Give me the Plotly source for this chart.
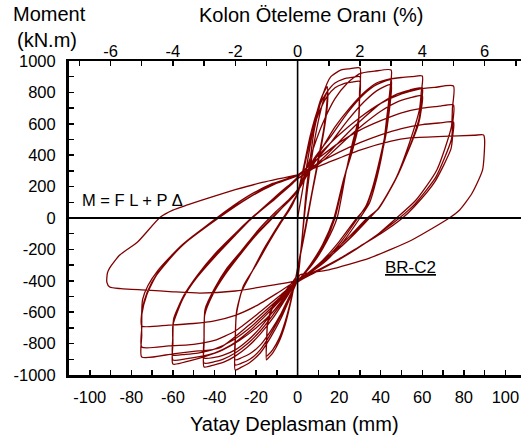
import plotly.graph_objects as go

# ---------------- data ----------------
# Level 1 % drift (≈15 mm), two cycles
d_1a = [0, 2, 5, 8, 11, 13, 14.3, 14, 12.5, 10, 7, 4, 1, 0, -3, -6, -9, -12, -14, -15, -14.8, -14.5, -12, -8, -5, -2, 0]
m_1a = [0, 150, 380, 600, 750, 810, 836, 720, 560, 380, 170, -40, -250, -320, -520, -680, -790, -860, -890, -904, -760, -682, -573, -520, -471, -420, -382]
d_1b = [2, 4, 7, 10, 12.5, 14.5, 14.2, 12.5, 10, 7, 4, 1, 0, -3, -6, -9, -12, -14, -15, -14.8, -14.4, -12, -8, -5, -2, 0]
m_1b = [-150, 100, 400, 620, 750, 810, 700, 540, 360, 160, -60, -260, -330, -510, -660, -770, -840, -870, -880, -740, -660, -560, -500, -450, -400, -360]

# Level 2 % drift (30 mm), three cycles
d_2a = [2, 4, 6, 8, 12, 16, 21, 25, 30, 29.8, 29.5, 26.4, 23.5, 19, 14, 8, 3, 0, -4, -8, -13, -18, -23, -27, -30, -30, -29.5, -27, -22, -16, -10, -5, -2, 0]
m_2a = [-150, 150, 370, 560, 780, 900, 943, 950, 955, 800, 643, 478, 306, 0, -150, -280, -360, -400, -520, -640, -760, -860, -920, -950, -968, -800, -620, -471, -344, -191, -64, 40, 110, 160]
d_2b = [3, 6, 10, 14, 18, 22, 26, 30, 29.7, 29.2, 26, 22.5, 18, 13, 7, 3, 0, -4, -8, -13, -18, -23, -27, -30, -30, -29.4, -26.5, -21, -15, -9, -4, 0]
m_2b = [330, 520, 700, 800, 860, 885, 895, 900, 760, 600, 430, 260, 0, -160, -290, -360, -400, -510, -620, -740, -840, -900, -925, -936, -780, -600, -450, -320, -170, -40, 60, 150]
d_2c = [3, 6, 10, 14, 18, 22, 26, 30, 29.7, 29.2, 26, 22, 17.5, 12, 6, 2, 0, -4, -8, -13, -18, -23, -27, -30, -30, -29.3, -26, -20, -14, -8, -3, 0]
m_2c = [310, 490, 660, 770, 830, 855, 865, 870, 730, 580, 410, 240, 0, -170, -300, -370, -400, -500, -610, -720, -810, -865, -890, -904, -760, -590, -430, -300, -160, -30, 70, 160]

# Level 3 % drift (45 mm), three cycles
d_3a = [4, 8, 12, 18, 24, 30, 37, 45, 44.7, 44, 43, 41, 37, 34.6, 30, 22, 14, 6, 0, -6, -12, -18, -24, -30, -35, -40, -45, -45, -44.7, -40.9, -35, -28, -20, -12, -5, 0]
m_3a = [300, 460, 600, 760, 860, 920, 935, 943, 850, 760, 650, 433, 197, 96, 0, -150, -270, -350, -400, -520, -640, -740, -820, -880, -915, -935, -949, -800, -618, -490, -363, -240, -110, 0, 100, 170]
d_3b = [4, 8, 16, 24, 32, 38, 45, 44.7, 44, 42.5, 40, 36, 33, 29, 21, 13, 6, 0, -6, -12, -18, -24, -30, -36, -40, -45, -45, -44.6, -40.5, -34.5, -27, -19, -11, -4, 0]
m_3b = [280, 380, 520, 670, 790, 850, 880, 780, 700, 560, 400, 190, 80, 0, -150, -270, -350, -400, -510, -620, -720, -800, -860, -900, -915, -924, -780, -600, -470, -340, -220, -90, 20, 110, 170]
d_3c = [4, 8, 16, 24, 32, 38, 45, 44.7, 44, 42.5, 40, 36, 33, 28.5, 20, 12, 5, 0, -6, -12, -18, -24, -30, -36, -40, -45, -45, -44.5, -40, -34, -26.5, -18.5, -10.5, -4, 0]
m_3c = [260, 350, 480, 620, 740, 810, 850, 750, 670, 530, 380, 180, 70, 0, -150, -270, -350, -400, -500, -600, -700, -780, -840, -875, -888, -892, -760, -580, -450, -320, -200, -70, 40, 120, 180]

# Level 4 % drift (60 mm), three cycles
d_4a = [6, 12, 18, 25, 32, 38, 44, 50, 55, 60, 59.5, 58.6, 53.8, 47.6, 39.4, 34.6, 26, 17, 8, 0, -6, -12, -20, -28, -36, -44, -52, -60, -60, -60, -55, -48.6, -39, -30, -22, -12, -5, 0]
m_4a = [320, 450, 580, 700, 800, 860, 885, 895, 900, 904, 800, 688, 478, 261, 70, 0, -120, -230, -330, -400, -500, -600, -700, -780, -840, -880, -910, -930, -800, -682, -510, -382, -236, -110, 0, 120, 200, 250]
d_4b = [8, 16, 24, 32, 40, 48, 54, 60, 59.5, 58.4, 53.5, 47, 39, 34, 25, 16, 8, 0, -8, -16, -24, -32, -40, -48, -54, -60, -60, -59.8, -54.8, -48.4, -38.8, -29.5, -21, -11, -4, 0]
m_4b = [330, 430, 540, 640, 730, 790, 815, 830, 730, 630, 440, 240, 60, 0, -130, -240, -330, -400, -520, -630, -730, -810, -860, -885, -897, -904, -780, -660, -500, -370, -220, -95, 10, 120, 200, 250]
d_4c = [8, 16, 24, 32, 40, 48, 54, 60, 59.5, 58.2, 53, 46.5, 38.5, 33.5, 24, 15, 7, 0, -8, -16, -24, -32, -40, -48, -54, -60, -60, -59.6, -54.6, -48, -38.5, -29, -20.5, -10.5, -4, 0]
m_4c = [320, 410, 510, 600, 680, 740, 765, 780, 690, 600, 420, 230, 55, 0, -130, -240, -330, -400, -510, -615, -710, -785, -835, -860, -868, -873, -750, -640, -490, -360, -210, -85, 20, 130, 210, 260]

# Level 5 % drift (75 mm), three cycles
d_5a = [10, 20, 30, 40, 50, 58, 66, 75, 74.5, 74, 67, 57, 47.6, 38, 28, 18, 8, 0, -8.7, -21.6, -37.5, -50, -60, -75, -75, -75, -72.6, -67.8, -56.7, -39, -25, -12, 0]
m_5a = [400, 530, 640, 730, 790, 820, 832, 841, 700, 580, 306, 115, 0, -110, -200, -280, -350, -408, -510, -662, -828, -850, -865, -885, -750, -618, -490, -363, -191, 0, 130, 220, 274]
d_5b = [10, 20, 30, 40, 50, 60, 68, 75, 74.6, 74, 66.5, 56.5, 49, 39, 29, 19, 9, 0, -9, -20, -30, -40, -50, -62, -75, -75, -74.8, -72.3, -67.3, -56, -38, -24, -11, 0]
m_5b = [380, 480, 560, 620, 670, 700, 712, 720, 600, 500, 260, 90, 0, -100, -190, -270, -340, -400, -500, -620, -720, -780, -805, -815, -822, -700, -590, -470, -350, -180, 0, 125, 215, 270]
d_5c = [10, 20, 30, 40, 50, 60, 68, 75, 74.6, 73.8, 66, 56, 50.5, 40, 30, 20, 10, 0, -10, -20, -30, -40, -50, -62, -75, -75, -74.6, -72, -67, -55.5, -37.5, -23.5, -11, 0]
m_5c = [350, 420, 480, 530, 570, 595, 605, 611, 520, 440, 230, 70, 0, -100, -180, -260, -330, -395, -480, -560, -620, -655, -672, -682, -688, -600, -520, -430, -330, -170, 10, 130, 220, 274]

# Level 6 % drift (≈90 mm), last cycle
d_6 = [14, 30, 45, 54, 70, 85, 89.5, 90, 89, 84, 78, 73, 55, 34.6, 15, 1, 0, -18, -30, -47, -60, -72.6, -85, -90.4, -91.8, -91.5, -90.4, -85.6, -77, -66, -60, -53, -40, -30, -18, 0]
m_6 = [350, 433, 490, 510, 520, 527, 529, 497, 306, 159, 51, 0, -140, -255, -330, -363, -395, -440, -465, -478, -470, -459, -450, -440, -408, -350, -318, -236, -153, 6, 50, 83, 140, 180, 223, 274]

disp_cycles = [d_1a, d_1b, d_2a, d_2b, d_2c, d_3a, d_3b, d_3c, d_4a, d_4b, d_4c, d_5a, d_5b, d_5c, d_6]
mom_cycles = [m_1a, m_1b, m_2a, m_2b, m_2c, m_3a, m_3b, m_3c, m_4a, m_4b, m_4c, m_5a, m_5b, m_5c, m_6]

# axis ticks / labels
x_tickvals = [-100, -80, -60, -40, -20, 0, 20, 40, 60, 80, 100]
x_ticktext = ["-100", "-80", "-60", "-40", "-20", "0", "20", "40", "60", "80", "100"]
y_tickvals = [-1000, -800, -600, -400, -200, 0, 200, 400, 600, 800, 1000]
y_ticktext = ["-1000", "-800", "-600", "-400", "-200", "0", "200", "400", "600", "800", "1000"]
drift_tickvals = [-6, -4, -2, 0, 2, 4, 6]
drift_ticktext = ["-6", "-4", "-2", "0", "2", "4", "6"]
column_length_mm = 1500  # drift % = disp / L * 100

X_RANGE = [-110, 107.5]
Y_RANGE = [-1000, 1000]

# ---------------- figure ----------------
xs, ys = [], []
for d, m in zip(disp_cycles, mom_cycles):
    xs.extend(d)
    ys.extend(m)

fig = go.Figure()
fig.add_trace(go.Scatter(
    x=xs, y=ys, mode="lines",
    line=dict(color="#800000", width=1.3, shape="spline", smoothing=0.6),
    showlegend=False, hoverinfo="skip",
))
# invisible trace to activate top axis
fig.add_trace(go.Scatter(x=[X_RANGE[0] / column_length_mm * 100], y=[0], xaxis="x2",
                         mode="markers", marker=dict(opacity=0), showlegend=False, hoverinfo="skip"))

FONT = "Liberation Sans, Arial, sans-serif"
tickfont = dict(family=FONT, size=16.5, color="black")

fig.update_layout(
    width=521, height=442,
    margin=dict(l=69, r=0, t=61, b=67, autoexpand=False),
    paper_bgcolor="white", plot_bgcolor="white",
    font=dict(family=FONT, color="black"),
    xaxis=dict(
        range=X_RANGE, tickvals=x_tickvals, ticktext=x_ticktext,
        ticks="inside", ticklen=5, tickwidth=1.5, tickcolor="black",
        minor=dict(dtick=10, tick0=0, ticks="inside", ticklen=5, tickwidth=1.5, tickcolor="black"),
        showline=True, linewidth=3, linecolor="black", mirror=False,
        showgrid=False, zeroline=False, tickfont=tickfont, ticklabelstandoff=5,
    ),
    xaxis2=dict(
        range=[X_RANGE[0] / column_length_mm * 100, X_RANGE[1] / column_length_mm * 100],
        overlaying="x", side="top", anchor="y",
        tickvals=drift_tickvals, ticktext=drift_ticktext,
        ticks="inside", ticklen=5, tickwidth=1.5, tickcolor="black",
        minor=dict(dtick=1, tick0=0, ticks="inside", ticklen=5, tickwidth=1.5, tickcolor="black"),
        showline=True, linewidth=2, linecolor="black",
        showgrid=False, zeroline=False, tickfont=tickfont, ticklabelstandoff=-5,
    ),
    yaxis=dict(
        range=Y_RANGE, tickvals=y_tickvals, ticktext=y_ticktext,
        ticks="inside", ticklen=5, tickwidth=1.5, tickcolor="black",
        minor=dict(dtick=100, tick0=0, ticks="inside", ticklen=5, tickwidth=1.5, tickcolor="black"),
        showline=True, linewidth=3, linecolor="black",
        showgrid=False, zeroline=False, tickfont=tickfont, ticklabelstandoff=7,
    ),
    shapes=[
        dict(type="line", xref="paper", yref="y", x0=0, x1=1, y0=0, y1=0,
             line=dict(color="black", width=2), layer="above"),
        dict(type="line", xref="x", yref="paper", x0=0, x1=0, y0=0, y1=1,
             line=dict(color="black", width=1.6), layer="above"),
    ],
    annotations=[
        dict(text="Moment", xref="paper", yref="paper", x=-0.044, y=1.1497,
             xanchor="center", yanchor="middle", showarrow=False, font=dict(family=FONT, size=20)),
        dict(text="(kN.m)", xref="paper", yref="paper", x=-0.0487, y=1.0669,
             xanchor="center", yanchor="middle", showarrow=False, font=dict(family=FONT, size=20)),
        dict(text="Kolon Öteleme Oranı (%)", xref="paper", yref="paper", x=0.5354, y=1.1465,
             xanchor="center", yanchor="middle", showarrow=False, font=dict(family=FONT, size=20)),
        dict(text="Yatay Deplasman (mm)", xref="paper", yref="paper", x=0.4978, y=-0.156,
             xanchor="center", yanchor="middle", showarrow=False, font=dict(family=FONT, size=20)),
        dict(text="M = F L + P Δ", xref="x", yref="y", x=-104.8, y=115,
             xanchor="left", yanchor="middle", showarrow=False, font=dict(family=FONT, size=16.5)),
        dict(text="<u>BR-C2</u>", xref="x", yref="y", x=54.3, y=-318,
             xanchor="center", yanchor="middle", showarrow=False, font=dict(family=FONT, size=17)),
    ],
)

# remove the default 8 px page margin so the figure fills the 521x442 window exactly
fig.write_html("out.html", config={"displayModeBar": False, "staticPlot": True},
               post_script="document.body.style.margin='0';")
